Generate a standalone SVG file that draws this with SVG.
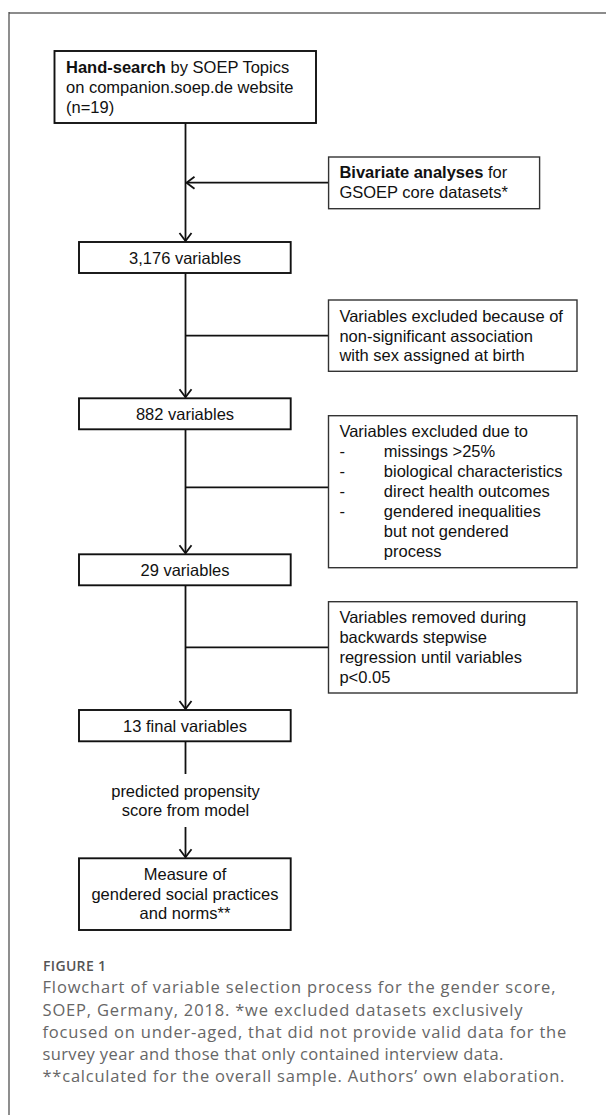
<svg xmlns="http://www.w3.org/2000/svg" width="606" height="1115" viewBox="0 0 606 1115">
<defs>
<style>
.box{fill:#fff;stroke:#111;stroke-width:1.9}
.side{fill:#fff;stroke:#333;stroke-width:1.4}
.t{font-family:"Liberation Sans",Arial,sans-serif;font-size:16.5px;fill:#111}
.c{text-anchor:middle}
.b{font-weight:bold}
.ln{stroke:#111;stroke-width:1.8;fill:none}
.cap{font-family:"Open Sans","Noto Sans",sans-serif;font-size:16.5px;fill:#666}
.fig{font-family:"Open Sans","Noto Sans",sans-serif;font-size:14px;font-weight:600;fill:#555}
</style>
<marker id="arr" viewBox="-10 -10 20 20" markerWidth="20" markerHeight="20" refX="0" refY="0" orient="auto" markerUnits="userSpaceOnUse">
<path d="M-8,-6 L0,0 L-8,6" fill="none" stroke="#111" stroke-width="1.8"/>
</marker>
</defs>
<rect width="606" height="1115" fill="#fff"/>
<g id="frame">
<line x1="9" y1="13" x2="606" y2="13" stroke="#8c8c8c" stroke-width="2"/>
<line x1="9" y1="12" x2="9" y2="1115" stroke="#444" stroke-width="1.2"/>
</g>
<g id="connectors">
<line class="ln" x1="185.5" y1="123" x2="185.5" y2="241" marker-end="url(#arr)"/>
<line class="ln" x1="328.6" y1="182.7" x2="186.5" y2="182.7" marker-end="url(#arr)"/>
<line class="ln" x1="185.5" y1="273" x2="185.5" y2="397.3" marker-end="url(#arr)"/>
<line class="ln" x1="185.5" y1="335.7" x2="328.5" y2="335.7"/>
<line class="ln" x1="185.5" y1="429.3" x2="185.5" y2="553.3" marker-end="url(#arr)"/>
<line class="ln" x1="185.5" y1="487.3" x2="328.5" y2="487.3"/>
<line class="ln" x1="185.5" y1="585.3" x2="185.5" y2="709" marker-end="url(#arr)"/>
<line class="ln" x1="185.5" y1="647.3" x2="328.5" y2="647.3"/>
<line class="ln" x1="185.5" y1="741.3" x2="185.5" y2="774"/>
<line class="ln" x1="185.5" y1="827" x2="185.5" y2="857.3" marker-end="url(#arr)"/>
<text class="t c" x="185.5" y="796.7">predicted propensity</text>
<text class="t c" x="185.5" y="816">score from model</text>
</g>
<g id="n1">
<rect class="box" x="54.5" y="51" width="261.5" height="72"/>
<text class="t" x="66" y="73"><tspan class="b">Hand-search</tspan> by SOEP Topics</text>
<text class="t" x="66" y="93">on companion.soep.de website</text>
<text class="t" x="66" y="113">(n=19)</text>
</g>
<g id="n2">
<rect class="side" x="328.6" y="157" width="211" height="51.7"/>
<text class="t" x="339.4" y="178"><tspan class="b">Bivariate analyses</tspan> for</text>
<text class="t" x="339.4" y="198">GSOEP core datasets*</text>
</g>
<g id="n3">
<rect class="box" x="79" y="242" width="211.7" height="31"/>
<text class="t c" x="185" y="264">3,176 variables</text>
</g>
<g id="n4">
<rect class="side" x="328.5" y="300" width="248.5" height="71.3"/>
<text class="t" x="339.4" y="321.7">Variables excluded because of</text>
<text class="t" x="339.4" y="341.7">non-significant association</text>
<text class="t" x="339.4" y="361.3">with sex assigned at birth</text>
</g>
<g id="n5">
<rect class="box" x="79" y="398.3" width="211.7" height="31"/>
<text class="t c" x="185" y="420">882 variables</text>
</g>
<g id="n6">
<rect class="side" x="328.5" y="415.7" width="248.5" height="152"/>
<text class="t" x="339.4" y="436.7">Variables excluded due to</text>
<text class="t" x="339.4" y="456.7">-</text>
<text class="t" x="383.8" y="456.7">missings &gt;25%</text>
<text class="t" x="339.4" y="476.7">-</text>
<text class="t" x="383.8" y="476.7">biological characteristics</text>
<text class="t" x="339.4" y="496.7">-</text>
<text class="t" x="383.8" y="496.7">direct health outcomes</text>
<text class="t" x="339.4" y="516.7">-</text>
<text class="t" x="383.8" y="516.7">gendered inequalities</text>
<text class="t" x="383.8" y="536.7">but not gendered</text>
<text class="t" x="383.8" y="556.7">process</text>
</g>
<g id="n7">
<rect class="box" x="79" y="554.3" width="211.7" height="31"/>
<text class="t c" x="185" y="576">29 variables</text>
</g>
<g id="n8">
<rect class="side" x="328.5" y="601.7" width="248.5" height="91.3"/>
<text class="t" x="339.4" y="623.3">Variables removed during</text>
<text class="t" x="339.4" y="643.3">backwards stepwise</text>
<text class="t" x="339.4" y="663">regression until variables</text>
<text class="t" x="339.4" y="683.3">p&lt;0.05</text>
</g>
<g id="n9">
<rect class="box" x="79" y="710" width="211.7" height="31.3"/>
<text class="t c" x="185" y="731.7">13 final variables</text>
</g>
<g id="n10">
<rect class="box" x="79" y="858.3" width="211.7" height="71.7"/>
<text class="t c" x="185" y="880">Measure of</text>
<text class="t c" x="185" y="900">gendered social practices</text>
<text class="t c" x="185" y="919.3">and norms**</text>
</g>
<g id="caption">
<text class="fig" x="43" y="970.7" textLength="63">FIGURE 1</text>
<text class="cap" x="42.5" y="993" textLength="513">Flowchart of variable selection process for the gender score,</text>
<text class="cap" x="42.5" y="1015.5" textLength="480">SOEP, Germany, 2018. *we excluded datasets exclusively</text>
<text class="cap" x="42.5" y="1038" textLength="523.8">focused on under-aged, that did not provide valid data for the</text>
<text class="cap" x="42.5" y="1060.3" textLength="460.8">survey year and those that only contained interview data.</text>
<text class="cap" x="42.5" y="1082.3" textLength="521.9">**calculated for the overall sample. Authors’ own elaboration.</text>
</g>
</svg>
